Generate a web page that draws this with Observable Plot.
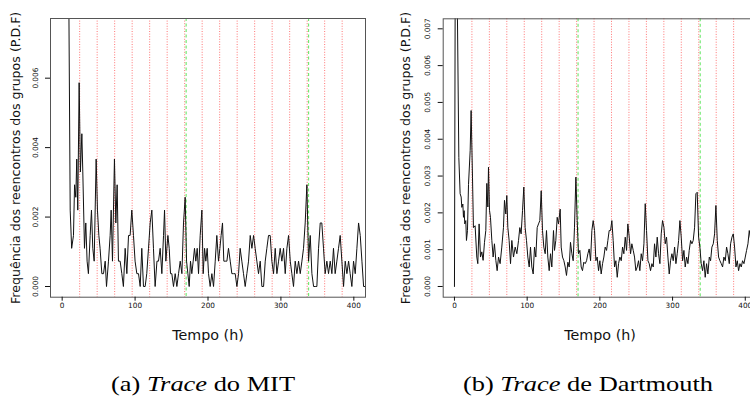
<!DOCTYPE html>
<html><head><meta charset="utf-8">
<script src="https://cdn.jsdelivr.net/npm/d3@7"></script>
<script src="https://cdn.jsdelivr.net/npm/@observablehq/plot@0.6"></script>
<style>
body{margin:0;background:#fff;}
#wrap{position:relative;width:750px;height:396px;overflow:hidden;background:#fff;}
.panel{position:absolute;top:0;}
.panel svg{max-width:none !important;}
.cap{position:absolute;top:372.6px;line-height:22px;font-family:"Liberation Serif","Times New Roman",serif;font-size:22px;white-space:nowrap;color:#000;transform:translateX(-50%) scaleX(1.2);}
.cap i{font-style:italic;}
</style>
</head><body>
<div id="wrap">
  <div id="pa" class="panel" style="left:0px;width:375px"></div>
  <div id="pb" class="panel" style="left:375px;width:390px"></div>
  <div class="cap" style="left:203px">(a) <i>Trace</i> do MIT</div>
  <div class="cap" style="left:588px">(b) <i>Trace</i> de Dartmouth</div>
</div>
<script>
// ---- data ----
const xTicks = [0, 100, 200, 300, 400];
const mitYTicks = [0, 0.002, 0.004, 0.006];
const dartYTicks = [0, 0.001, 0.002, 0.003, 0.004, 0.005, 0.006, 0.007];
const dayHours = [24, 48, 72, 96, 120, 144, 168, 192, 216, 240, 264, 288, 312, 336, 360, 384];
const weekHours = [170, 338];
const xLabel = "Tempo (h)";
const yLabel = "Frequência dos reencontros dos grupos (P.D.F)";

const mitHours = [8,11,13,15.5,17,18.7,20,21.4,23.3,25,27,28.3,30.6,32.4,34.2,36,38.4,40.2,42,43.9,46.6,48.4,50.3,52,54.4,56.7,59,60.8,63.5,65.8,67.2,69,71.7,73.6,75.4,77.2,79.5,81.8,84,86.4,88.7,91,93.2,95.5,97.8,100,102.4,104.7,107,109.2,111.5,113.8,116,118.4,120.7,123,125.2,127.5,130,132.1,
134.4,136.7,139,140.4,142.2,145,146.8,148.6,150.4,152.7,155,157.3,159.6,161.9,164.2,166.4,168.7,170.6,172.4,174.2,176,177.8,179.7,181.5,183.3,185.2,187,189.3,191.6,193.4,195.3,197,198.9,200.7,203,205.3,207.6,209.9,212.1,214.4,216.3,218,219.9,221.7,223.6,225.9,228.1,230.5,232.7,235,237.3,239.6,241.9,244.1,246.4,248.7,251,253.3,255.6,257.9,260.2,262.5,264.7,267,269.3,271.6,273.9,
276.2,278.5,280.7,283,285.3,287.6,289.9,292.2,294.5,296.8,299,301.3,303.6,305.9,308.2,310.5,312.8,315,317.3,319.6,321.9,324.2,326.5,328.8,331,333.3,335.6,337.9,340.2,342.5,344.8,347,349.3,351.6,353.9,356.1,358.4,360.7,363,365.3,367.6,369.9,372.1,374.4,376.7,379,381.3,383.6,385.9,388.2,390.5,392.8,395,397.3,399.6,401.9,404.2,406.5,408.8,411.1,413.4,415.7];
const mitFreq = [0.012,.0022,.0011,.00147,.00293,.00257,.00367,.0022,.00587,.0033,.0044,.0033,.0011,.00183,.00073,.00037,.00147,.0022,.0011,.00073,.00367,.0022,.00147,.0011,.00037,.00037,.00073,0,.00073,.00147,.0022,.00073,.00367,.00183,.00293,.00073,.00073,.00037,0,.0011,.00037,.00147,.00147,.0022,.00147,.00073,.00037,.00037,0,.0011,0,0,.00037,.0011,.00183,.0022,.0011,0,.00073,.00073,
.0011,.00037,.00147,.0022,.00073,.00147,.0011,.00037,.00037,0,.00037,0,.00037,.00073,.00037,.00183,.00257,.00073,.00037,0,.00073,.00037,.00073,.0011,.00073,.0011,.00037,.00147,.0022,.00037,.0011,.00073,.0011,.00037,0,.00037,0,.00073,.00147,.00073,.0011,.00147,.00183,.00073,.00073,.00073,.0011,.00073,.00037,.00037,.00037,0,.00037,.0011,.00073,.00037,0,.00037,.00073,.00147,.0011,.00147,.0011,.00073,.00037,.00073,0,
0,.00073,.0011,.00147,.00147,.00073,.00037,.0011,.00037,.00073,.0011,.00073,.0011,.00037,.0011,.00147,.00073,.00037,0,.00073,.00037,.00073,.00037,.00073,.0011,.00183,.00293,.00073,.00147,.00037,0,0,0,.0011,.00183,.00183,.0011,.00037,.00073,.00037,.00073,.00037,.0011,.00037,.00073,.0011,.00147,.00073,0,.00073,.00037,.00073,.00037,0,.00073,.00037,.0011,.00183,.00147,.00073,0,0];

const dartHours = [0,1.5,3.5,6,7.8,9.2,10.1,11.5,12.4,13.3,14.2,15.6,16.5,17.9,19.3,21.6,22.9,24.8,26.1,28.4,30.7,32.1,33.9,35.8,37.6,39.4,41.3,43.1,44.5,45.9,46.8,48.2,49.5,51.4,53.2,55,56.9,58.7,60.6,62.8,65.1,67.4,68.8,70.6,72,73.4,75.2,77.1,78.9,81.2,83.5,85.8,88.1,89.9,91.7,93.6,95.4,97.2,99.1,100.9,102.8,104.6,106.4,108.3,110.1,111.9,113.8,115.6,117.4,119.3,121.1,122.9,124.8,126.6,128.4,130.3,132.1,133.9,
136.2,137.6,139.4,141.3,143.1,145.4,146.8,148.6,150.5,152.3,154.1,156,157.8,159.6,161.5,163.3,165.1,167,168.8,170.6,172.5,174.3,176.1,177.9,179.8,181.7,183.5,185.3,187.2,189,190.8,192.7,194.5,196.3,198.2,200,201.8,203.7,205.5,207.3,209.2,211,212.8,214.7,216.5,218.3,220.2,222,223.9,225.7,227.5,229.4,231.2,233,234.9,236.7,238.5,240.4,242.2,244,245.9,247.7,249.5,251.4,253.2,255,256.9,258.7,260.6,262.4,264.2,266.1,267.9,269.7,271.6,273.4,
275.2,277.1,278.9,280.7,282.6,284.4,286.2,288.1,289.9,291.7,293.6,295.4,297.2,299.1,300.9,302.8,304.6,306.4,308.3,310.1,311.9,313.8,315.6,317.4,319.3,321.1,322.9,324.8,326.6,328.4,330.3,332.1,333.9,335.8,337.6,339.4,341.3,343.1,344.9,346.8,348.6,350.5,352.3,354.1,356,357.8,359.6,361.5,363.3,365.1,367,368.8,370.6,372.5,374.3,376.1,378,379.8,381.7,383.5,385.3,387.2,389,390.8,392.7,394.5,396.3,398.2,400,401.8,403.7,405.5,408,411];
const dartFreq = [0,0.012,0.0085,0.0035,0.00252,0.00243,0.00215,0.00224,0.00188,0.00206,0.0017,0.00179,0.00125,0.00152,0.00277,0.0037,0.00478,0.00297,0.0016,0.00165,0.0008,0.00062,0.0017,0.0008,0.00094,0.00071,0.0012,0.00152,0.0028,0.00216,0.00324,0.00207,0.00188,0.00125,0.0008,0.00116,0.00071,0.00043,0.0008,0.00062,0.00107,0.0016,0.00234,0.00197,0.00247,0.0016,0.00125,0.00062,0.00125,0.0008,0.00107,0.00089,0.00125,0.0016,0.00143,0.00206,0.0027,0.0016,0.00125,0.0008,0.00053,0.00107,0.00053,0.00034,0.00107,0.0008,0.0016,0.0017,0.00179,0.0026,0.00152,0.00107,0.00089,0.00152,0.0008,0.00043,0.00089,0.00053,
0.00152,0.00098,0.00125,0.00188,0.0017,0.0021,0.00107,0.0008,0.0007,0.00053,0.0003,0.00066,0.00053,0.0012,0.00089,0.0007,0.00161,0.00297,0.0018,0.00089,0.00098,0.00053,0.00043,0.00066,0.00062,0.0007,0.00089,0.00102,0.0007,0.00152,0.00179,0.00152,0.0007,0.0008,0.00043,0.0007,0.00034,0.00062,0.0008,0.00107,0.00098,0.00125,0.00152,0.00152,0.00179,0.00125,0.00053,0.0007,0.00025,0.00062,0.0008,0.0007,0.00107,0.00089,0.00134,0.00098,0.0017,0.00134,0.00089,0.00116,0.00098,0.0008,0.00043,0.00053,0.0007,0.00043,0.00089,0.0007,0.00116,0.00225,0.00152,0.0007,0.00062,0.00043,0.00062,0.00053,
0.00116,0.0008,0.00134,0.00089,0.00062,0.00143,0.00179,0.00161,0.00116,0.00134,0.0008,0.00034,0.0007,0.00089,0.0007,0.00107,0.00062,0.00089,0.00125,0.00179,0.00134,0.0007,0.00098,0.00053,0.0008,0.00062,0.00098,0.00125,0.00116,0.00125,0.00161,0.00252,0.00256,0.00134,0.00107,0.00062,0.00043,0.0007,0.00025,0.00062,0.00034,0.0008,0.0007,0.00107,0.00116,0.00143,0.0022,0.00125,0.0008,0.0007,0.00062,0.00053,0.0008,0.0007,0.00107,0.00089,0.00062,0.00116,0.00134,0.00143,0.00107,0.00053,0.0007,0.00043,0.00062,0.00053,0.0007,0.00062,0.0008,0.00098,0.00116,0.00152,0.0012,0.0015];

// ---- build ----
const mit = mitHours.map((h, i) => ({h, f: mitFreq[i]})).filter(d => d.f !== undefined);
const dart = dartHours.map((h, i) => ({h, f: dartFreq[i]})).filter(d => d.f !== undefined);

function panel({data, yDomain, yTicks, marginLeft, width, marginRight, xDomain, yTop, labelOffsetY}) {
  return Plot.plot({
    width, height: 350,
    marginLeft, marginRight, marginTop: yTop, marginBottom: 350 - 296.7,
    style: {fontFamily: "'DejaVu Sans', sans-serif", fontSize: "7.3px", background: "white", color: "#111", overflow: "visible"},
    x: {domain: xDomain},
    y: {domain: yDomain},
    marks: [
      Plot.ruleX(dayHours, {stroke: "#ff4040", strokeOpacity: 0.8, strokeWidth: 0.9, strokeDasharray: "1,1.6"}),
      Plot.ruleX(weekHours, {stroke: "#40e040", strokeOpacity: 0.85, strokeWidth: 1, strokeDasharray: "3,2.5"}),
      Plot.line(data, {x: "h", y: "f", stroke: "#111", strokeWidth: 1, clip: true}),
      Plot.frame({stroke: "#555", strokeWidth: 1}),
      Plot.axisX({ticks: xTicks, tickSize: 4, tickPadding: 1.8, tickFormat: d3.format("d"), label: null}),
      Plot.axisX({ticks: [], tickSize: 0, fontSize: 14.3, label: xLabel, labelAnchor: "center", labelOffset: 43, labelArrow: "none"}),
      Plot.axisY({ticks: yTicks, tickSize: 5, tickPadding: 8, tickRotate: -90, tickFormat: d3.format(".3f"), label: null}),
      Plot.axisY({ticks: [], tickSize: 0, fontSize: 12.6, label: yLabel, labelAnchor: "center", labelOffset: labelOffsetY, labelArrow: "none"})
    ]
  });
}

document.getElementById("pa").append(panel({
  data: mit, yDomain: [-0.000308, 0.007719], yTicks: mitYTicks,
  marginLeft: 50, width: 375, marginRight: 10, xDomain: [-16, 416], yTop: 18, labelOffsetY: 39
}));
document.getElementById("pb").append(panel({
  data: dart, yDomain: [-0.000291, 0.007272], yTicks: dartYTicks,
  marginLeft: 67.7, width: 390, marginRight: 8.6, xDomain: [-15.5, 416], yTop: 18.3, labelOffsetY: 41.7
}));
</script>
</body></html>
